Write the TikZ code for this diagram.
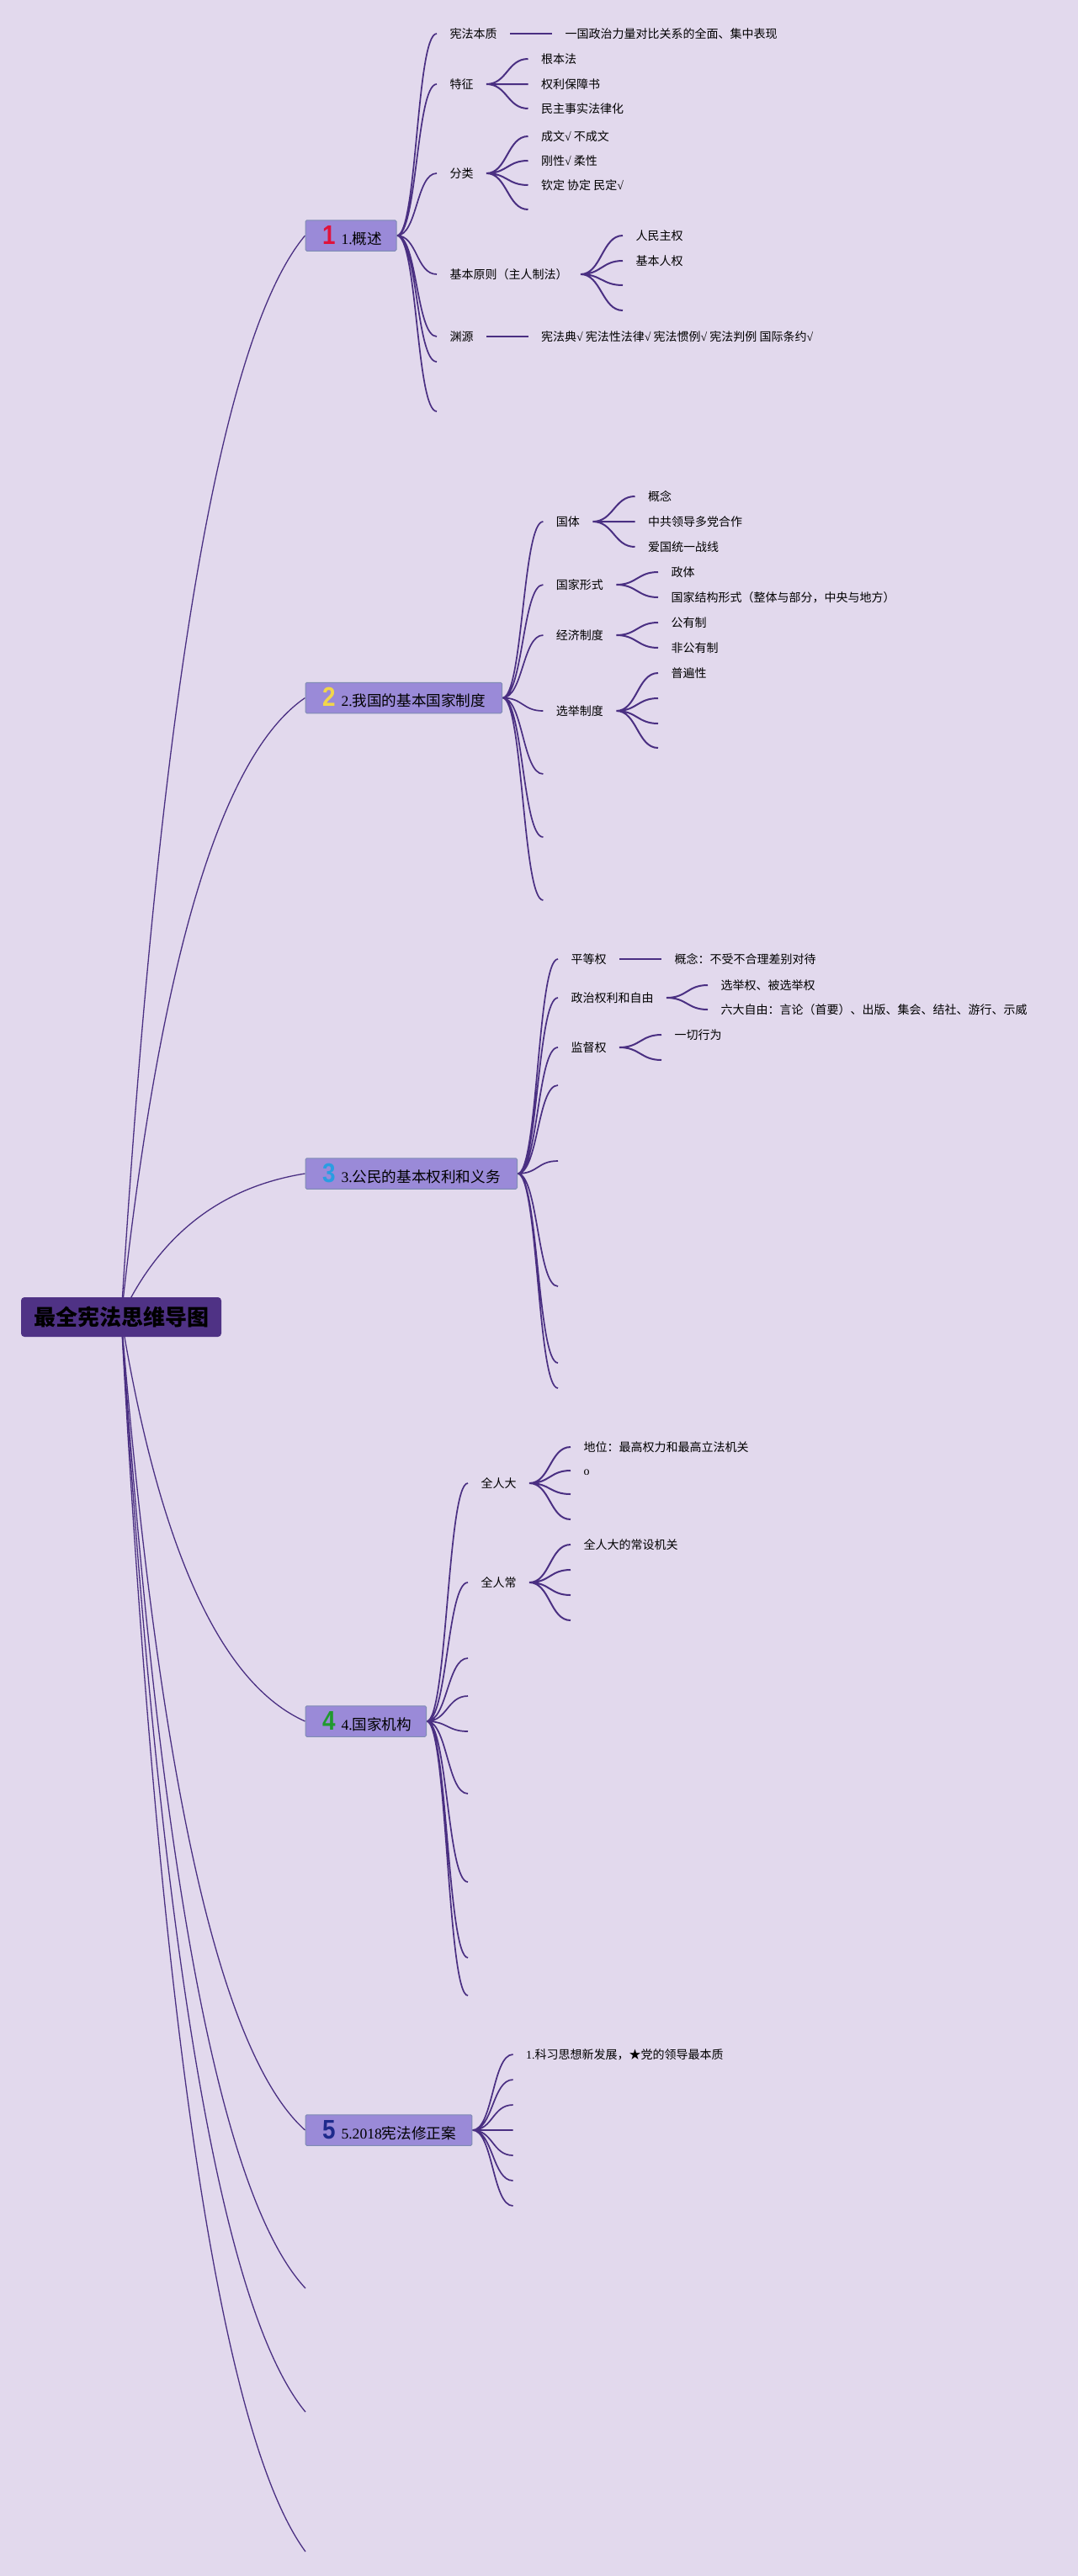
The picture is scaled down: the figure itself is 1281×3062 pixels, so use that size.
\documentclass[tikz,border=0pt]{standalone}
\usepackage{fontspec}
\usepackage{graphicx}
\newfontfamily\cjk{Noto Sans CJK SC}
\newfontfamily\lat{Liberation Serif}
\newfontfamily\numf{Liberation Sans}
\definecolor{bgc}{HTML}{E2D9ED}
\definecolor{lnc}{HTML}{4A2F82}
\definecolor{rootc}{HTML}{4F3285}
\definecolor{boxc}{HTML}{9A8AD8}
\definecolor{boxd}{HTML}{7F8CB4}
\definecolor{nred}{HTML}{E0123C}
\definecolor{nyel}{HTML}{F2D64A}
\definecolor{nblu}{HTML}{2A9DE2}
\definecolor{ngrn}{HTML}{1F9A2E}
\definecolor{nnav}{HTML}{1E2A8C}
\newcommand\ck{{\lat √}}
\newcommand\bignum[2]{\makebox[15.5pt][c]{\scalebox{0.87}[1]{\fontsize{32}{32}\selectfont\numf\bfseries\color{#1}#2}}\hspace{7pt}}
\pgfdeclarelayer{bglayer}
\pgfdeclarelayer{lnlayer}
\pgfsetlayers{bglayer,lnlayer,main}
\tikzset{
  rootbox/.style={fill=rootc, rounded corners=4pt, minimum width=238pt, minimum height=47pt, inner sep=0pt, text=black, font={\fontsize{26}{30}\selectfont\cjk\bfseries}},
  l1box/.style={fill=boxc, draw=boxd, line width=1pt, rounded corners=1.5pt, minimum height=36.5pt, inner xsep=20pt, inner ysep=0pt, anchor=west, text=black, font={\fontsize{17.6}{20}\selectfont\cjk}},
  txt/.style={anchor=west, inner xsep=0pt, inner ysep=0pt, outer xsep=15.5pt, outer ysep=0pt, text=black, text height=12.3pt, text depth=1.7pt, font={\fontsize{14}{16}\selectfont\cjk}},
  sc/.style={to path={.. controls +(24.5,0) and +(-24.5,0) .. (\tikztotarget)}},
  rootln/.style={draw=lnc, line width=1.3pt},
  brln/.style={draw=lnc, line width=1.7pt, sc},
  subln/.style={draw=lnc, line width=2pt, sc},
}
\begin{document}
\begin{tikzpicture}[x=1pt,y=-1pt]
\begin{pgfonlayer}{bglayer}
\fill[bgc] (0,0) rectangle (1281,3062);
\end{pgfonlayer}
\useasboundingbox (0,0) rectangle (1281,3062);

% ---------- root and main topics ----------
\node[rootbox] (root) at (144,1565.5) {最全宪法思维导图};
\node[l1box] (b1) at (362.5,280) {\makebox[68pt][l]{\bignum{nred}{1}{\lat 1.}概述}};
\node[l1box] (b2) at (362.5,829.5) {\makebox[193.5pt][l]{\bignum{nyel}{2}{\lat 2.}我国的基本国家制度}};
\node[l1box] (b3) at (362.5,1395) {\makebox[211.5pt][l]{\bignum{nblu}{3}{\lat 3.}公民的基本权利和义务}};
\node[l1box] (b4) at (362.5,2046) {\makebox[103.5pt][l]{\bignum{ngrn}{4}{\lat 4.}国家机构}};
\node[l1box] (b5) at (362.5,2532) {\makebox[157.9pt][l]{\bignum{nnav}{5}{\lat 5.2018}宪法修正案}};
\coordinate (f1) at (363,2720);
\coordinate (f2) at (363,2867);
\coordinate (f3) at (363,3033);

% ---------- 1 ----------
\node[txt] (c11) at (519,40) {宪法本质};
\node[txt] (d111) at (656,40) {一国政治力量对比关系的全面、集中表现};
\node[txt] (c12) at (519,100) {特征};
\node[txt] (d121) at (627.5,70) {根本法};
\node[txt] (d122) at (627.5,100) {权利保障书};
\node[txt] (d123) at (627.5,129) {民主事实法律化};
\node[txt] (c13) at (519,206) {分类};
\node[txt] (d131) at (627.5,162) {成文\ck{} 不成文};
\node[txt] (d132) at (627.5,191) {刚性\ck{} 柔性};
\node[txt] (d133) at (627.5,220) {钦定 协定 民定\ck};
\coordinate (d134) at (627.5,249);
\node[txt] (c14) at (519,326) {基本原则（主人制法）};
\node[txt] (d141) at (740,280) {人民主权};
\node[txt] (d142) at (740,310) {基本人权};
\coordinate (d143) at (740,339);
\coordinate (d144) at (740,369);
\node[txt] (c15) at (519,400) {渊源};
\node[txt] (d151) at (627.5,400) {宪法典\ck{} 宪法性法律\ck{} 宪法惯例\ck{} 宪法判例 国际条约\ck};
\coordinate (c16) at (519,430);
\coordinate (c17) at (519,489);

% ---------- 2 ----------
\node[txt] (c21) at (645.4,620) {国体};
\node[txt] (d211) at (754.5,590) {概念};
\node[txt] (d212) at (754.5,620) {中共领导多党合作};
\node[txt] (d213) at (754.5,650) {爱国统一战线};
\node[txt] (c22) at (645.4,695) {国家形式};
\node[txt] (d221) at (782,680) {政体};
\node[txt] (d222) at (782,710) {国家结构形式（整体与部分，中央与地方）};
\node[txt] (c23) at (645.4,755) {经济制度};
\node[txt] (d231) at (782,740) {公有制};
\node[txt] (d232) at (782,770) {非公有制};
\node[txt] (c24) at (645.4,845) {选举制度};
\node[txt] (d241) at (782,800) {普遍性};
\coordinate (d242) at (782,830);
\coordinate (d243) at (782,860);
\coordinate (d244) at (782,889);
\coordinate (c25) at (645.4,920);
\coordinate (c26) at (645.4,995);
\coordinate (c27) at (645.4,1070);

% ---------- 3 ----------
\node[txt] (c31) at (663,1140) {平等权};
\node[txt] (d311) at (786,1140) {概念：不受不合理差别对待};
\node[txt] (c32) at (663,1186) {政治权利和自由};
\node[txt] (d321) at (841,1171) {选举权、被选举权};
\node[txt] (d322) at (841,1200) {六大自由：言论（首要）、出版、集会、结社、游行、示威};
\node[txt] (c33) at (663,1245) {监督权};
\node[txt] (d331) at (786,1230) {一切行为};
\coordinate (d332) at (786,1260);
\coordinate (c34) at (663,1290);
\coordinate (c35) at (663,1380);
\coordinate (c36) at (663,1529);
\coordinate (c37) at (663,1620);
\coordinate (c38) at (663,1650);

% ---------- 4 ----------
\node[txt] (c41) at (556,1763) {全人大};
\node[txt] (d411) at (678,1720) {地位：最高权力和最高立法机关};
\node[txt] (d412) at (678,1748) {\lat o};
\coordinate (d413) at (678,1776);
\coordinate (d414) at (678,1806);
\node[txt] (c42) at (556,1881) {全人常};
\node[txt] (d421) at (678,1836) {全人大的常设机关};
\coordinate (d422) at (678,1866);
\coordinate (d423) at (678,1896);
\coordinate (d424) at (678,1926);
\coordinate (c43) at (556,1971);
\coordinate (c44) at (556,2016);
\coordinate (c45) at (556,2058);
\coordinate (c46) at (556,2132);
\coordinate (c47) at (556,2237);
\coordinate (c48) at (556,2327);
\coordinate (c49) at (556,2372);

% ---------- 5 ----------
\node[txt] (c51) at (609.6,2442) {{\lat 1.}科习思想新发展，★党的领导最本质};
\coordinate (c52) at (609.6,2472);
\coordinate (c53) at (609.6,2502);
\coordinate (c54) at (609.6,2532);
\coordinate (c55) at (609.6,2562);
\coordinate (c56) at (609.6,2592);
\coordinate (c57) at (609.6,2622);

% ---------- connectors ----------
\begin{pgfonlayer}{lnlayer}
\draw[rootln] (root.center) .. controls (189.3,828.7) and (262.2,400) .. (b1.west);
\draw[rootln] (root.center) .. controls (189.3,1143.7) and (262.2,898.2) .. (b2.west);
\draw[rootln] (root.center) .. controls (189.3,1468) and (262.2,1411) .. (b3.west);
\draw[rootln] (root.center) .. controls (189.3,1841.2) and (262.2,2001.2) .. (b4.west);
\draw[rootln] (root.center) .. controls (189.3,2119.9) and (262.2,2441.9) .. (b5.west);
\draw[rootln] (root.center) .. controls (189.3,2227.6) and (262.6,2612.3) .. (f1);
\draw[rootln] (root.center) .. controls (189.3,2311.9) and (262.6,2745.6) .. (f2);
\draw[rootln] (root.center) .. controls (189.3,2407.1) and (262.6,2896.1) .. (f3);

\draw[brln] (b1.east) to (c11.west) (b1.east) to (c12.west) (b1.east) to (c13.west)
  (b1.east) to (c14.west) (b1.east) to (c15.west) (b1.east) to (c16) (b1.east) to (c17);
\draw[subln] (c11.east) to (d111.west);
\draw[subln] (c12.east) to (d121.west) (c12.east) to (d122.west) (c12.east) to (d123.west);
\draw[subln] (c13.east) to (d131.west) (c13.east) to (d132.west) (c13.east) to (d133.west) (c13.east) to (d134);
\draw[subln] (c14.east) to (d141.west) (c14.east) to (d142.west) (c14.east) to (d143) (c14.east) to (d144);
\draw[subln] (c15.east) to (d151.west);

\draw[brln] (b2.east) to (c21.west) (b2.east) to (c22.west) (b2.east) to (c23.west)
  (b2.east) to (c24.west) (b2.east) to (c25) (b2.east) to (c26) (b2.east) to (c27);
\draw[subln] (c21.east) to (d211.west) (c21.east) to (d212.west) (c21.east) to (d213.west);
\draw[subln] (c22.east) to (d221.west) (c22.east) to (d222.west);
\draw[subln] (c23.east) to (d231.west) (c23.east) to (d232.west);
\draw[subln] (c24.east) to (d241.west) (c24.east) to (d242) (c24.east) to (d243) (c24.east) to (d244);

\draw[brln] (b3.east) to (c31.west) (b3.east) to (c32.west) (b3.east) to (c33.west)
  (b3.east) to (c34) (b3.east) to (c35) (b3.east) to (c36) (b3.east) to (c37) (b3.east) to (c38);
\draw[subln] (c31.east) to (d311.west);
\draw[subln] (c32.east) to (d321.west) (c32.east) to (d322.west);
\draw[subln] (c33.east) to (d331.west) (c33.east) to (d332);

\draw[brln] (b4.east) to (c41.west) (b4.east) to (c42.west) (b4.east) to (c43) (b4.east) to (c44)
  (b4.east) to (c45) (b4.east) to (c46) (b4.east) to (c47) (b4.east) to (c48) (b4.east) to (c49);
\draw[subln] (c41.east) to (d411.west) (c41.east) to (d412.west) (c41.east) to (d413) (c41.east) to (d414);
\draw[subln] (c42.east) to (d421.west) (c42.east) to (d422) (c42.east) to (d423) (c42.east) to (d424);

\draw[brln] (b5.east) to (c51.west) (b5.east) to (c52) (b5.east) to (c53) (b5.east) to (c54)
  (b5.east) to (c55) (b5.east) to (c56) (b5.east) to (c57);
\end{pgfonlayer}
\end{tikzpicture}
\end{document}
